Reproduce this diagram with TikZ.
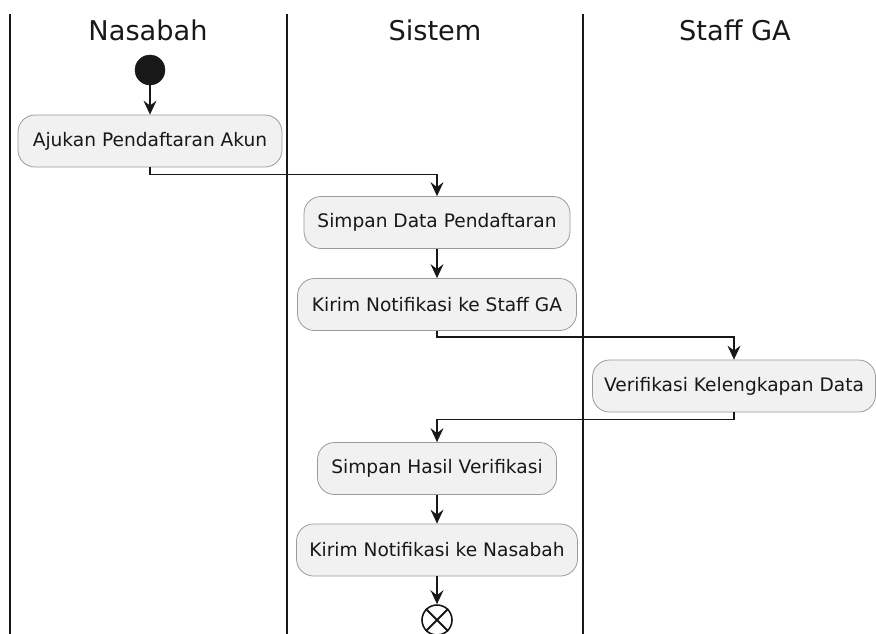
\documentclass[tikz,border=0pt]{standalone}
\usepackage{fontspec}
\setmainfont{DejaVu Sans}
\usetikzlibrary{arrows.meta}
\definecolor{actfill}{HTML}{F1F1F1}
\definecolor{actline}{HTML}{9A9A9A}
\definecolor{ink}{HTML}{181818}
\begin{document}
\begin{tikzpicture}[x=1pt,y=-1pt,
  lane/.style={line width=1.7pt, draw=ink},
  act/.style={draw=actline, fill=actfill, rounded corners=17pt, line width=0.8pt,
    minimum height=52pt, inner xsep=0pt, text=ink,
    font=\fontsize{18.6}{21}\selectfont},
  flow/.style={line width=1.4pt, draw=ink,
    -{Stealth[length=14pt,width=13pt,inset=5pt]}},
  lanetitle/.style={font=\fontsize{27.2}{31}\selectfont, text=ink}
]
\useasboundingbox (0,0) rectangle (876,633);

% swimlane separators
\draw[lane] (10,14) -- (10,640);
\draw[lane] (287,14) -- (287,640);
\draw[lane] (583,14) -- (583,640);

% lane titles
\node[lanetitle] (tNas) at (148,30) {Nasabah};
\node[lanetitle] (tSis) at (435,30) {Sistem};
\node[lanetitle] (tGA)  at (735,30) {Staff GA};

% start and end
\node[circle, fill=ink, draw=ink, minimum size=30pt, inner sep=0pt] (start) at (150,70) {};
\node[circle, draw=ink, line width=1.6pt, minimum size=30pt, inner sep=0pt] (stop) at (437,620) {};
\draw[ink, line width=2pt] (stop.north west) -- (stop.south east);
\draw[ink, line width=2pt] (stop.north east) -- (stop.south west);

% activities
\node[act, minimum width=264pt] (a1) at (150,141)   {Ajukan Pendaftaran Akun};
\node[act, minimum width=266pt] (a2) at (437,222.5) {Simpan Data Pendaftaran};
\node[act, minimum width=279pt] (a3) at (437,304.5) {Kirim Notifikasi ke Staff GA};
\node[act, minimum width=283pt] (a4) at (734,386)   {Verifikasi Kelengkapan Data};
\node[act, minimum width=239pt] (a5) at (437,468.5) {Simpan Hasil Verifikasi};
\node[act, minimum width=281pt] (a6) at (437,550)   {Kirim Notifikasi ke Nasabah};

% flows
\draw[flow] (start.south) -- (a1.north);
\draw[flow] (a1.south) -- ++(0,7) -| (a2.north);
\draw[flow] (a2.south) -- (a3.north);
\draw[flow] (a3.south) -- ++(0,6) -| (a4.north);
\draw[flow] (a4.south) -- ++(0,7) -| (a5.north);
\draw[flow] (a5.south) -- (a6.north);
\draw[flow] (a6.south) -- (stop.north);
\end{tikzpicture}
\end{document}
